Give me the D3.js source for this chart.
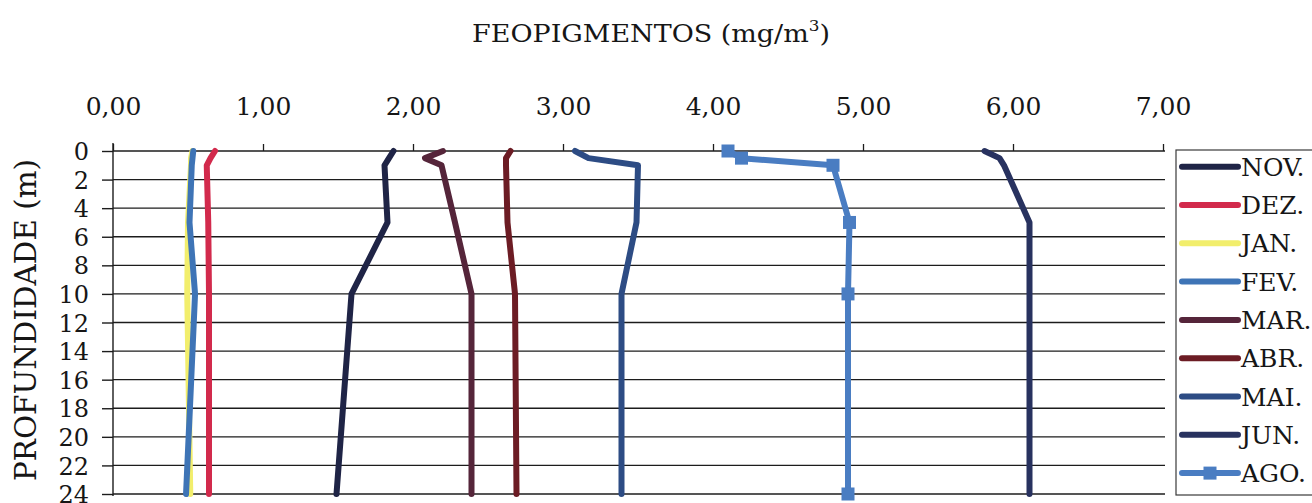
<!DOCTYPE html>
<html>
<head>
<meta charset="utf-8">
<script src="https://cdn.jsdelivr.net/npm/d3@7"></script>
<style>
  html, body { margin: 0; padding: 0; background: #ffffff; }
  svg { display: block; }
  svg text { font-family: "DejaVu Serif", "Liberation Serif", serif; fill: #161616; }
</style>
</head>
<body>
<svg id="chart" width="1312" height="503"></svg>
<script>
// ---- data ----
const depths = [0, 0.5, 1, 5, 10, 24];
const months = ["NOV.", "DEZ.", "JAN.", "FEV.", "MAR.", "ABR.", "MAI.", "JUN.", "AGO."];
const nov = [1.87, 1.84, 1.81, 1.83, 1.59, 1.49];
const dez = [0.68, 0.65, 0.625, 0.635, 0.64, 0.64];
const jan = [0.53, 0.52, 0.52, 0.50, 0.495, 0.515];
const fev = [0.535, 0.53, 0.525, 0.51, 0.547, 0.487];
const mar = [2.20, 2.08, 2.19, 2.28, 2.39, 2.39];
const abr = [2.65, 2.62, 2.62, 2.63, 2.68, 2.69];
const mai = [3.08, 3.17, 3.50, 3.49, 3.39, 3.39];
const jun = [5.81, 5.91, 5.94, 6.11, 6.11, 6.11];
const ago = [4.10, 4.19, 4.80, 4.91, 4.90, 4.90];
const xTicks = [0, 1, 2, 3, 4, 5, 6, 7];
const yTicks = [0, 2, 4, 6, 8, 10, 12, 14, 16, 18, 20, 22, 24];
const titleText = "FEOPIGMENTOS (mg/m";
const yTitle = "PROFUNDIDADE (m)";

const seriesValues = [nov, dez, jan, fev, mar, abr, mai, jun, ago];
const colors = ["#1f2446", "#d22a4c", "#f2ee6c", "#3e74b6", "#55253a", "#6c1c24", "#2d4c84", "#28325f", "#4a7dc2"];

const svg = d3.select("#chart");

const x = d3.scaleLinear().domain([0, 7]).range([113, 1163]);
const y = d3.scaleLinear().domain([0, 24]).range([151, 494]);

// gridlines
svg.append("g").selectAll("line").data(yTicks).join("line")
  .attr("x1", x(0)).attr("x2", 1165)
  .attr("y1", d => y(d)).attr("y2", d => y(d))
  .attr("stroke", "#1c1c1c").attr("stroke-width", 1.4);

// x axis (top)
const fmt = d => d3.format(".2f")(d).replace(".", ",");
const gx = svg.append("g").attr("transform", `translate(0,${y(0)})`)
  .call(d3.axisTop(x).tickValues(xTicks).tickSize(7).tickPadding(29).tickFormat(fmt));
gx.select(".domain").remove();
gx.selectAll(".tick line").attr("stroke", "#1c1c1c").attr("stroke-width", 1.3);
gx.selectAll(".tick text").attr("font-size", 25).attr("fill", "#161616");

// y axis (left)
const gy = svg.append("g").attr("transform", `translate(${x(0)},0)`)
  .call(d3.axisLeft(y).tickValues(yTicks).tickSize(11).tickPadding(13).tickFormat(d3.format("d")));
gy.select(".domain").remove();
gy.selectAll(".tick line").attr("stroke", "#1c1c1c").attr("stroke-width", 1.4);
gy.selectAll(".tick text").attr("font-size", 24).attr("dy", "0.36em").attr("fill", "#161616");

// left axis line
svg.append("line")
  .attr("x1", x(0)).attr("x2", x(0))
  .attr("y1", y(0) - 8).attr("y2", y(24) + 2)
  .attr("stroke", "#1c1c1c").attr("stroke-width", 1.4);

// title, fitted to the reference width
const tg = svg.append("g");
const t = tg.append("text")
  .attr("x", 0).attr("y", 0)
  .attr("text-anchor", "middle")
  .attr("font-size", 24);
t.append("tspan").text(titleText);
t.append("tspan").attr("font-size", 15).attr("dy", -11).text("3");
t.append("tspan").attr("dy", 11).text(")");
const tw = t.node().getBBox().width;
tg.attr("transform", `translate(651,42) scale(${358 / tw},1)`);

// y title
svg.append("text")
  .attr("transform", "translate(36,320) rotate(-90)")
  .attr("text-anchor", "middle")
  .attr("font-size", 30)
  .attr("textLength", 322)
  .attr("lengthAdjust", "spacingAndGlyphs")
  .text(yTitle);

// lines
const line = d3.line().x(d => x(d.v)).y(d => y(d.d));
seriesValues.forEach((vals, i) => {
  const pts = vals.map((v, j) => ({ v: v, d: depths[j] }));
  svg.append("path")
    .datum(pts)
    .attr("d", line)
    .attr("fill", "none")
    .attr("stroke", colors[i])
    .attr("stroke-width", 6)
    .attr("stroke-linejoin", "round")
    .attr("stroke-linecap", "round");
  if (months[i] === "AGO.") {
    svg.append("g").selectAll("rect").data(pts).join("rect")
      .attr("x", d => x(d.v) - 6.5).attr("y", d => y(d.d) - 6.5)
      .attr("width", 13).attr("height", 13)
      .attr("fill", colors[i]);
  }
});

// legend
const lg = svg.append("g");
lg.append("rect")
  .attr("x", 1176).attr("y", 150).attr("width", 200).attr("height", 345)
  .attr("fill", "#ffffff").attr("stroke", "#3a3a3a").attr("stroke-width", 1.2);
months.forEach((m, i) => {
  const yy = 166.7 + i * 38.3;
  lg.append("line")
    .attr("x1", 1182).attr("x2", 1238).attr("y1", yy).attr("y2", yy)
    .attr("stroke", colors[i]).attr("stroke-width", 6).attr("stroke-linecap", "round");
  if (m === "AGO.") {
    lg.append("rect").attr("x", 1203.5).attr("y", yy - 6.5).attr("width", 13).attr("height", 13)
      .attr("fill", colors[i]);
  }
  lg.append("text").attr("x", 1241).attr("y", yy + 9).attr("font-size", 25).text(m);
});
</script>
</body>
</html>
